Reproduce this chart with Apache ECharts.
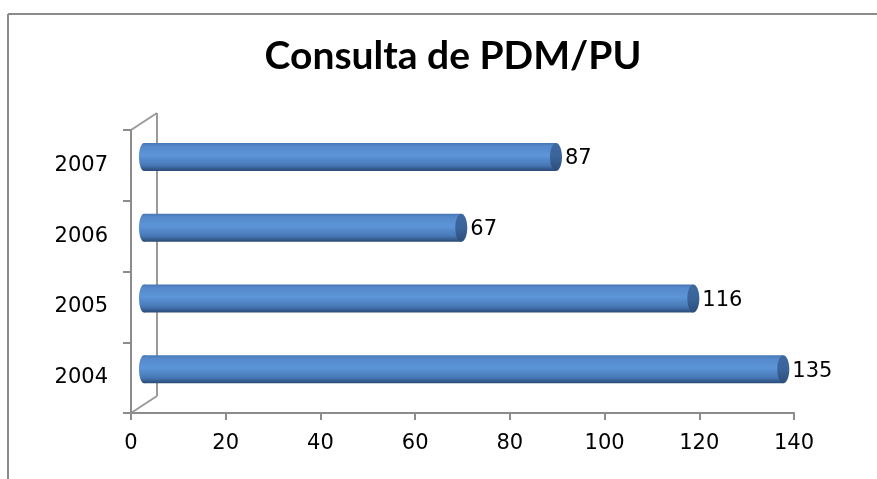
<!DOCTYPE html>
<html>
<head>
<meta charset="utf-8">
<script src="https://cdn.jsdelivr.net/npm/echarts@6/dist/echarts.min.js"></script>
<style>
  html, body { margin: 0; padding: 0; background: #fff; }
  #Chart { width: 877px; height: 479px; }
</style>
</head>
<body>
<div id="Chart"></div>
<script>
const categories = [ "2004", "2005", "2006", "2007" ]
const values = [ 135, 116, 67, 87 ]
const xTicks = [ 0, 20, 40, 60, 80, 100, 120, 140 ]

const chart = echarts.init(document.getElementById("Chart"), null, { renderer: "canvas" })

// 3D depth offset of the bars (Excel cylinder look)
const dx = 13
const dy = -8.5
const barH = 28
const capR = 5

const cylinder = (params, api) => {
  const cat = api.value(1)
  const s = api.coord([ 0, cat ])
  const e = api.coord([ api.value(0), cat ])
  const x0 = s[0] + dx
  const x1 = e[0] + dx
  const cy = s[1] + dy
  const body = new echarts.graphic.LinearGradient(0, 0, 0, 1, [
    { offset: 0, color: "#4676b3" },
    { offset: 0.12, color: "#5589cb" },
    { offset: 0.45, color: "#5c95d8" },
    { offset: 0.8, color: "#4778b6" },
    { offset: 1, color: "#2a4b78" }
  ])
  const cap = new echarts.graphic.LinearGradient(0, 0, 0, 1, [
    { offset: 0, color: "#3d6aa2" },
    { offset: 0.5, color: "#3a6499" },
    { offset: 1, color: "#2c4e7c" }
  ])
  return {
    type: "group",
    children: [
      {
        type: "ellipse",
        shape: { cx: x0, cy: cy, rx: capR, ry: barH / 2 },
        style: { fill: body }
      },
      {
        type: "rect",
        shape: { x: x0, y: cy - barH / 2, width: x1 - x0, height: barH },
        style: { fill: body }
      },
      {
        type: "ellipse",
        shape: { cx: x1, cy: cy, rx: capR + 1, ry: barH / 2 },
        style: { fill: cap }
      },
      {
        type: "text",
        x: x1 + capR + 4,
        y: cy + 2,
        style: {
          text: String(api.value(0)),
          fill: "#000",
          font: "21px 'DejaVu Sans', sans-serif",
          verticalAlign: "middle",
          align: "left"
        }
      }
    ]
  }
}

const option = {
  animation: false,
  title: {
    text: "Consulta de PDM/PU",
    left: 448,
    top: 32,
    textAlign: "center",
    textStyle: {
      fontFamily: "Lato",
      fontWeight: "bold",
      fontSize: 39,
      color: "#000"
    }
  },
  grid: {
    left: 131,
    right: 83,
    top: 130,
    bottom: 66,
    containLabel: false
  },
  xAxis: {
    type: "value",
    min: xTicks[0],
    max: xTicks[xTicks.length - 1],
    interval: 20,
    splitLine: { show: false },
    axisLine: { show: true, lineStyle: { color: "#8c8c8c", width: 2 } },
    axisTick: { show: true, length: 7, lineStyle: { color: "#8c8c8c", width: 2 } },
    axisLabel: {
      margin: 20,
      color: "#000",
      fontFamily: "DejaVu Sans",
      fontSize: 21
    }
  },
  yAxis: {
    type: "category",
    data: categories,
    axisLine: { show: true, lineStyle: { color: "#8c8c8c", width: 2 } },
    axisTick: { show: true, length: 8, lineStyle: { color: "#8c8c8c", width: 2 } },
    axisLabel: {
      margin: 23,
      color: "#000",
      fontFamily: "DejaVu Sans",
      fontSize: 21
    }
  },
  series: [
    {
      type: "custom",
      renderItem: cylinder,
      encode: { x: 0, y: 1 },
      data: values.map((v, i) => [ v, i ])
    }
  ]
}
chart.setOption(option)

// frame + 3D side wall of the category axis
const pFirst = chart.convertToPixel({ gridIndex: 0 }, [ 0, 0 ])
const pLast = chart.convertToPixel({ gridIndex: 0 }, [ 0, categories.length - 1 ])
const halfBand = (pFirst[1] - pLast[1]) / (2 * (categories.length - 1))
const wx = pFirst[0]
const wTop = pLast[1] - halfBand
const wBot = pFirst[1] + halfBand
const wall = { stroke: "#9a9a9a", lineWidth: 2 }
chart.setOption({
  graphic: [
    { type: "line", shape: { x1: wx, y1: wTop, x2: wx + 2 * dx, y2: wTop + 2 * dy }, style: wall },
    { type: "line", shape: { x1: wx + 2 * dx, y1: wTop + 2 * dy, x2: wx + 2 * dx, y2: wBot + 2 * dy }, style: wall },
    { type: "line", shape: { x1: wx, y1: wBot, x2: wx + 2 * dx, y2: wBot + 2 * dy }, style: wall },
    { type: "line", shape: { x1: 8, y1: 14, x2: 8, y2: 479 }, style: { stroke: "#8a8a8a", lineWidth: 2 } },
    { type: "line", shape: { x1: 8, y1: 14, x2: 877, y2: 14 }, style: { stroke: "#8a8a8a", lineWidth: 2 } }
  ]
})
</script>
</body>
</html>
